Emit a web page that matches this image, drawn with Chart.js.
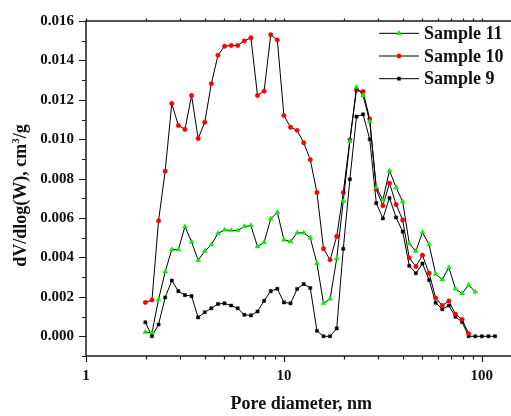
<!DOCTYPE html>
<html>
<head>
<meta charset="utf-8">
<script src="https://cdn.jsdelivr.net/npm/chart.js@4.4.0/dist/chart.umd.min.js"></script>
<style>
  html, body { margin: 0; padding: 0; background: #fff; overflow: hidden; }
  #wrap { position: relative; width: 520px; height: 416px; }
</style>
</head>
<body>
<div id="wrap"><canvas id="poreChart"></canvas></div>
<script>
// Pore diameter, nm
const diameters = [
  1.995, 2.154, 2.326, 2.512, 2.713, 2.929, 3.162, 3.415, 3.687, 3.981,
  4.299, 4.642, 5.012, 5.412, 5.843, 6.310, 6.813, 7.356, 7.943, 8.577,
  9.261, 10.00, 10.80, 11.66, 12.59, 13.59, 14.68, 15.85, 17.11, 18.48,
  19.95, 21.54, 23.26, 25.12, 27.13, 29.29, 31.62, 34.15, 36.87, 39.81,
  42.99, 46.42, 50.12, 54.12, 58.43, 63.10, 68.13, 73.56, 79.43, 85.77,
  92.61, 100.0, 108.0, 116.6
];

// dV/dlog(W), cm3/g
const sample11 = [
  0.00021, 0.00018, 0.00187, 0.00328, 0.00440, 0.00440, 0.00557, 0.00479, 0.00386, 0.00432,
  0.00465, 0.00522, 0.00540, 0.00537, 0.00537, 0.00557, 0.00562, 0.00455, 0.00477, 0.00596,
  0.00629, 0.00490, 0.00480, 0.00525, 0.00525, 0.00500, 0.00370, 0.00167, 0.00190, 0.00394,
  0.00686, 0.00990, 0.01264, 0.01222, 0.01090, 0.00755, 0.00692, 0.00841, 0.00755, 0.00684,
  0.00470, 0.00432, 0.00527, 0.00466, 0.00316, 0.00288, 0.00349, 0.00241, 0.00217, 0.00261,
  0.00225
];

const sample10 = [
  0.00172, 0.00184, 0.00586, 0.00838, 0.01181, 0.01070, 0.01050, 0.01222, 0.01004, 0.01086,
  0.01282, 0.01426, 0.01472, 0.01476, 0.01476, 0.01499, 0.01515, 0.01222, 0.01244, 0.01530,
  0.01504, 0.01120, 0.01061, 0.01045, 0.00982, 0.00896, 0.00730, 0.00444, 0.00388, 0.00507,
  0.00730, 0.00997, 0.01249, 0.01242, 0.01103, 0.00746, 0.00663, 0.00777, 0.00669, 0.00590,
  0.00398, 0.00354, 0.00411, 0.00320, 0.00195, 0.00156, 0.00179, 0.00112, 0.00086, 0.00013
];

const sample9 = [
  0.00071, 0.00001, 0.00060, 0.00197, 0.00283, 0.00229, 0.00209, 0.00204, 0.00096, 0.00122,
  0.00142, 0.00164, 0.00167, 0.00156, 0.00142, 0.00109, 0.00106, 0.00126, 0.00180, 0.00229,
  0.00241, 0.00172, 0.00167, 0.00240, 0.00265, 0.00245, 0.00028, 0.00000, 0.00000, 0.00040,
  0.00444, 0.00797, 0.01115, 0.01126, 0.01000, 0.00676, 0.00598, 0.00702, 0.00603, 0.00531,
  0.00358, 0.00320, 0.00369, 0.00286, 0.00170, 0.00137, 0.00156, 0.00099, 0.00073, 0.00000,
  0.00000, 0.00000, 0.00000, 0.00000
];

const seriesNames = ['Sample 11', 'Sample 10', 'Sample 9'];
const xTickLabels = [1, 10, 100];
const yTickLabels = [0, 0.002, 0.004, 0.006, 0.008, 0.010, 0.012, 0.014, 0.016];

const SERIF = "'Liberation Serif', 'Times New Roman', serif";
const INK = '#111';

function toPoints(values) {
  return values.map((v, i) => ({ x: diameters[i], y: v }));
}

function makeSet(label, values, color, style, radius) {
  return {
    label: label,
    data: toPoints(values),
    borderColor: '#000',
    borderWidth: 1,
    backgroundColor: color,
    pointBackgroundColor: color,
    pointBorderColor: color,
    pointBorderWidth: 0.5,
    pointStyle: style,
    pointRadius: radius,
    pointHoverRadius: radius,
    tension: 0,
    fill: false
  };
}

// frame, tick marks, y title and legend
const decorPlugin = {
  id: 'decor',
  beforeDatasetsDraw(chart) {
    const { ctx, chartArea: a, scales } = chart;
    const xs = scales.x, ys = scales.y;
    ctx.save();
    ctx.strokeStyle = '#1a1a1a';
    ctx.lineWidth = 1.5;
    ctx.strokeRect(a.left, a.top, a.right - a.left, a.bottom - a.top);

    ctx.lineWidth = 1.2;
    ctx.beginPath();
    // x ticks (bottom outward, short ones on top)
    for (let d = 1; d <= 100; d *= 10) {
      for (let m = 1; m <= 9; m++) {
        const v = d * m;
        if (v > 100) break;
        const px = Math.round(xs.getPixelForValue(v)) + 0.5;
        const major = m === 1;
        ctx.moveTo(px, a.bottom);
        ctx.lineTo(px, a.bottom + (major ? 6 : 3.5));
        ctx.moveTo(px, a.top);
        ctx.lineTo(px, a.top - 2.5);
      }
    }
    // y ticks
    for (let k = -1; k <= 16; k++) {
      const py = Math.round(ys.getPixelForValue(k / 1000)) + 0.5;
      const major = k % 2 === 0;
      ctx.moveTo(a.left, py);
      ctx.lineTo(a.left - (major ? 7 : 4), py);
    }
    ctx.stroke();
    ctx.restore();
  },
  afterDraw(chart) {
    const { ctx } = chart;
    ctx.save();
    // y axis title with superscript
    ctx.translate(21.5, 195.5);
    ctx.rotate(-Math.PI / 2);
    ctx.fillStyle = INK;
    ctx.textBaseline = 'middle';
    const big = 'bold 18px ' + SERIF, small = 'bold 11px ' + SERIF;
    const p1 = 'dV/dlog(W), cm', p2 = '3', p3 = '/g';
    ctx.font = big; const w1 = ctx.measureText(p1).width, w3 = ctx.measureText(p3).width;
    ctx.font = small; const w2 = ctx.measureText(p2).width;
    let x = -(w1 + w2 + w3) / 2;
    ctx.font = big; ctx.fillText(p1, x, 0); x += w1;
    ctx.font = small; ctx.fillText(p2, x, -5); x += w2;
    ctx.font = big; ctx.fillText(p3, x, 0);
    ctx.restore();

    // legend
    ctx.save();
    const rows = [33.3, 56, 78.7];
    chart.data.datasets.forEach((ds, i) => {
      const y = rows[i];
      ctx.strokeStyle = '#000';
      ctx.lineWidth = 1;
      ctx.beginPath();
      ctx.moveTo(379, y);
      ctx.lineTo(419, y);
      ctx.stroke();
      ctx.fillStyle = ds.pointBackgroundColor;
      ctx.strokeStyle = ds.pointBorderColor;
      ctx.lineWidth = ds.pointBorderWidth;
      Chart.helpers.drawPoint(ctx, {
        pointStyle: ds.pointStyle, radius: ds.pointRadius, rotation: 0, borderWidth: ds.pointBorderWidth
      }, 399, y);
      ctx.fillStyle = INK;
      ctx.font = 'bold 18px ' + SERIF;
      ctx.textBaseline = 'middle';
      ctx.fillText(seriesNames[i], 424, y + 1);
    });
    ctx.restore();
  }
};

new Chart(document.getElementById('poreChart'), {
  type: 'line',
  data: {
    datasets: [
      makeSet(seriesNames[0], sample11, '#00f000', 'triangle', 2.8),
      makeSet(seriesNames[1], sample10, '#ff0000', 'circle', 2.2),
      makeSet(seriesNames[2], sample9, '#000000', 'rect', 2.2)
    ]
  },
  options: {
    responsive: true,
    maintainAspectRatio: false,
    animation: false,
    layout: { padding: { top: 13, right: 3, left: 0, bottom: 0 } },
    plugins: {
      legend: { display: false },
      tooltip: { enabled: false }
    },
    scales: {
      x: {
        type: 'logarithmic',
        min: 1,
        max: 150,
        grid: { display: false, drawTicks: false },
        border: { display: false },
        afterFit(scale) { scale.height = 60; },
        afterBuildTicks(scale) {
          scale.ticks = xTickLabels.map(v => ({ value: v }));
        },
        ticks: {
          autoSkip: false,
          maxRotation: 0,
          padding: 11,
          color: INK,
          font: { family: SERIF, size: 15, weight: 'bold' },
          callback: v => String(v)
        },
        title: {
          display: true,
          text: 'Pore diameter, nm',
          color: INK,
          font: { family: SERIF, size: 18, weight: 'bold' },
          padding: { top: 0, bottom: 1 }
        }
      },
      y: {
        min: -0.001,
        max: 0.016,
        grid: { display: false, drawTicks: false },
        border: { display: false },
        afterFit(scale) { scale.width = 86; },
        afterBuildTicks(scale) {
          scale.ticks = yTickLabels.map(v => ({ value: v }));
        },
        ticks: {
          padding: 12,
          color: INK,
          font: { family: SERIF, size: 15, weight: 'bold' },
          callback: v => v.toFixed(3)
        }
      }
    }
  },
  plugins: [decorPlugin]
});
</script>
</body>
</html>
